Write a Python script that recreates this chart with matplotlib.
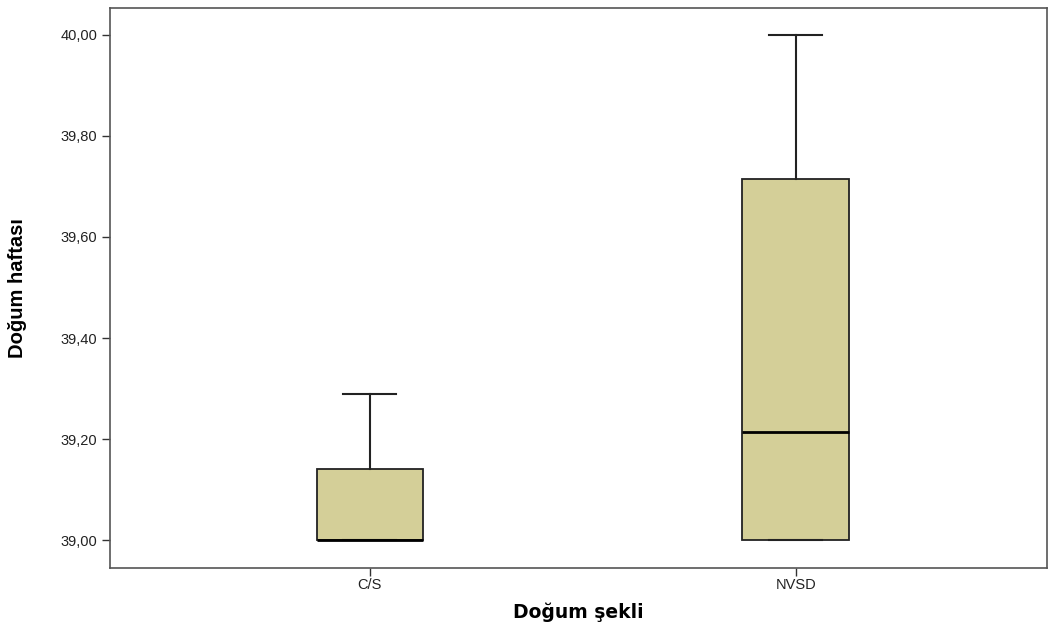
import numpy as np
import matplotlib.pyplot as plt
from matplotlib.ticker import FuncFormatter

# box statistics
groups = ["C/S", "NVSD"]
whislo = [39.00, 39.00]
q1 = [39.00, 39.00]
med = [39.00, 39.215]
q3 = [39.14, 39.715]
whishi = [39.29, 40.00]

box_color = "#D4CF98"

stats = []
for i, g in enumerate(groups):
    stats.append(dict(label=g, whislo=whislo[i], q1=q1[i], med=med[i],
                      q3=q3[i], whishi=whishi[i], fliers=[]))

fig = plt.figure(figsize=(10.57, 6.31), dpi=100)
ax = fig.add_axes([0.104, 0.0998, 0.8865, 0.8875])

ax.bxp(stats, positions=[0, 1], widths=0.25, capwidths=0.125,
       patch_artist=True, showfliers=False,
       boxprops=dict(facecolor=box_color, edgecolor="#222222", linewidth=1.3),
       medianprops=dict(color="black", linewidth=2),
       whiskerprops=dict(color="#222222", linewidth=1.5),
       capprops=dict(color="#222222", linewidth=1.5))

ax.set_xlim(-0.61, 1.59)
ax.set_ylim(38.945, 40.053)
ax.set_yticks(np.arange(39.0, 40.01, 0.2))
ax.yaxis.set_major_formatter(FuncFormatter(lambda v, p: f"{v:.2f}".replace(".", ",")))

for s in ax.spines.values():
    s.set_color("#555555")
    s.set_linewidth(1.2)
ax.tick_params(direction="out", length=6, width=1, color="#333333",
               labelsize=10.5, labelcolor="#222222", pad=3)
ax.tick_params(axis="x", pad=1.5)
for lab in ax.get_xticklabels() + ax.get_yticklabels():
    lab.set_family("Liberation Sans")

ax.set_xlabel("Doğum şekli", fontsize=13.5, fontweight="bold",
              family="DejaVu Sans")
ax.xaxis.set_label_coords(0.5, -0.062)
ax.set_ylabel("Doğum haftası", fontsize=14.5, fontweight="bold",
              family="Liberation Sans")
ax.yaxis.set_label_coords(-0.088, 0.5)

fig.savefig("out.png", dpi=100)
